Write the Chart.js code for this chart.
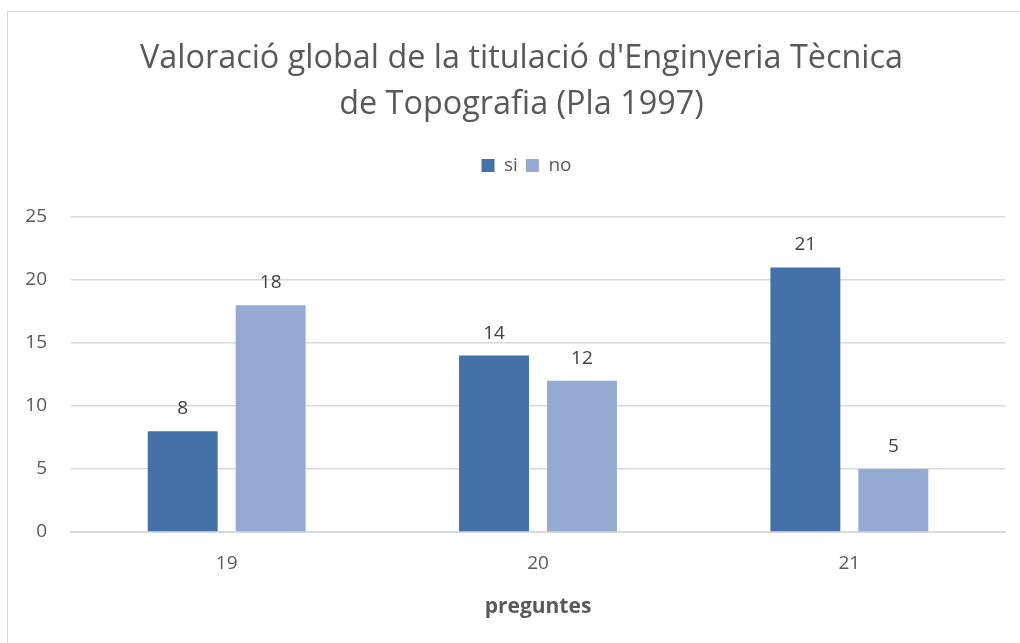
<!DOCTYPE html>
<html>
<head>
<meta charset="utf-8">
<script src="https://cdn.jsdelivr.net/npm/chart.js@4/dist/chart.umd.min.js"></script>
<style>
  html, body { margin: 0; padding: 0; background: #fff; }
  #wrap { position: relative; width: 1020px; height: 643px; overflow: hidden; }
  #frame { position: absolute; left: 7px; top: 11px; width: 1100px; height: 700px; border: 1px solid #d9d9d9; box-sizing: border-box; }
  canvas { position: absolute; left: 0; top: 0; }
</style>
</head>
<body>
<div id="wrap">
  <div id="frame"></div>
  <canvas id="grafic" width="1020" height="643"></canvas>
</div>
<script>
  var preguntes = ['19', '20', '21'];
  var respostesSi = [8, 14, 21];
  var respostesNo = [18, 12, 5];

  var fontFam = "'Open Sans', 'Noto Sans', sans-serif";

  // etiquetes de valor a sobre de cada barra
  var etiquetesValor = {
    id: 'etiquetesValor',
    afterDatasetsDraw: function (chart) {
      var ctx = chart.ctx;
      ctx.save();
      ctx.font = '19px ' + fontFam;
      ctx.fillStyle = '#404040';
      ctx.textAlign = 'center';
      ctx.textBaseline = 'bottom';
      chart.data.datasets.forEach(function (ds, i) {
        var meta = chart.getDatasetMeta(i);
        meta.data.forEach(function (bar, j) {
          ctx.fillText(ds.data[j], bar.x, bar.y - 13);
        });
      });
      ctx.restore();
    }
  };

  // més espai sota la llegenda, i títol i llegenda una mica cap a la dreta
  var ajustCapcalera = {
    id: 'ajustCapcalera',
    beforeInit: function (chart) {
      var fitOrig = chart.legend.fit;
      chart.legend.fit = function () {
        fitOrig.bind(chart.legend)();
        this.height += 32;
      };
    },
    afterLayout: function (chart) {
      chart.titleBlock.left += 12;
      chart.legend.left += 22;
    }
  };

  var ctx = document.getElementById('grafic').getContext('2d');
  new Chart(ctx, {
    type: 'bar',
    data: {
      labels: preguntes,
      datasets: [{
        label: 'si',
        data: respostesSi,
        backgroundColor: '#4472a8'
      }, {
        label: 'no',
        data: respostesNo,
        backgroundColor: '#95aad2'
      }]
    },
    options: {
      responsive: false,
      animation: false,
      categoryPercentage: 0.565,
      barPercentage: 0.795,
      layout: { padding: { left: 26, right: 15, top: 36, bottom: 19 } },
      plugins: {
        title: {
          display: true,
          text: ["Valoració global de la titulació d'Enginyeria Tècnica", 'de Topografia (Pla 1997)'],
          color: '#595959',
          font: { family: fontFam, size: 32.4, weight: 'normal', lineHeight: 1.42 },
          padding: { top: 0, bottom: 20 }
        },
        legend: {
          display: true,
          position: 'top',
          labels: {
            color: '#595959',
            font: { family: fontFam, size: 19 },
            boxWidth: 13,
            boxHeight: 13,
            padding: 8
          }
        },
        tooltip: { enabled: false }
      },
      scales: {
        x: {
          grid: { display: false, drawTicks: false },
          border: { display: true, color: '#d9d9d9', width: 2 },
          ticks: { color: '#595959', font: { family: fontFam, size: 19 }, padding: 20 },
          title: {
            display: true,
            text: 'preguntes',
            color: '#595959',
            font: { family: fontFam, size: 21, weight: 'bold' },
            padding: { top: 0 }
          }
        },
        y: {
          min: 0,
          max: 25,
          ticks: { stepSize: 5, color: '#595959', font: { family: fontFam, size: 19 }, padding: 24 },
          grid: { color: '#d9d9d9', lineWidth: 1.5, drawTicks: false },
          border: { display: false },
          afterFit: function (scale) { scale.width = 45; }
        }
      }
    },
    plugins: [etiquetesValor, ajustCapcalera]
  });
</script>
</body>
</html>
